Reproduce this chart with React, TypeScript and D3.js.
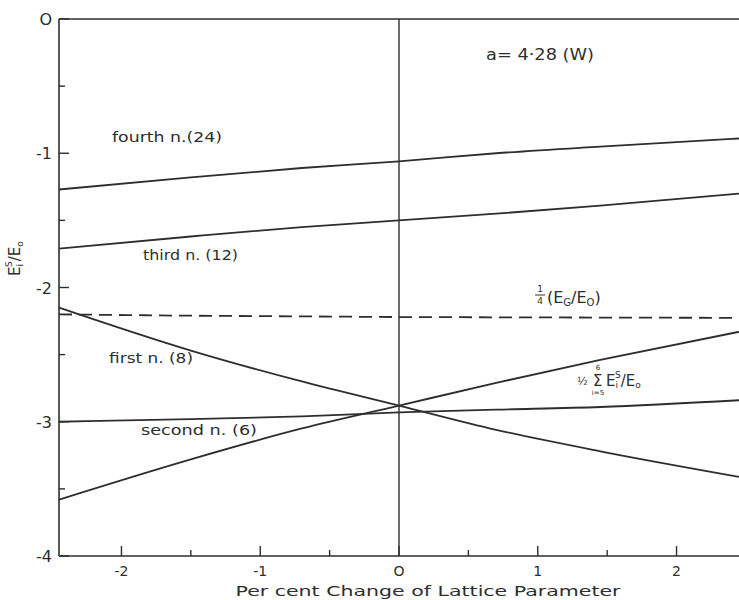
import React from "react";
import * as d3 from "d3";

const xPoints = [-2.45, -1.5, -0.7, 0, 0.7, 1.45, 2.45];
const fourth = [-1.27, -1.18, -1.11, -1.06, -1.0, -0.95, -0.89];
const third = [-1.71, -1.62, -1.55, -1.5, -1.45, -1.39, -1.3];
const first = [-2.15, -2.47, -2.7, -2.88, -3.06, -3.22, -3.41];
const second = [-3.0, -2.98, -2.96, -2.93, -2.91, -2.89, -2.84];
const sumHalf = [-3.58, -3.28, -3.05, -2.88, -2.71, -2.54, -2.33];
const egLine = [-2.2, -2.21, -2.215, -2.22, -2.222, -2.224, -2.226];

const xMajor = [-2, -1, 0, 1, 2];
const xMinor = [-1.5, -0.5, 0.5, 1.5];
const yMajor = [0, -1, -2, -3, -4];
const yMinor = [-0.5, -1.5, -2.5, -3.5];
const xTickLabels = ["-2", "-1", "O", "1", "2"];
const yTickLabels = ["O", "-1", "-2", "-3", "-4"];

const W = 739;
const H = 600;
const left = 59;
const right = 739;
const top = 19;
const bottom = 556;

const x = d3.scaleLinear().domain([-2.45, 2.45]).range([left, right]);
const y = d3.scaleLinear().domain([0, -4]).range([top, bottom]);

const ink = "#2e2e2e";
const font = "'DejaVu Sans', sans-serif";

function path(vals: number[]) {
  const line = d3
    .line<number>()
    .x((_, i) => x(xPoints[i]))
    .y((v) => y(v))
    .curve(d3.curveMonotoneX);
  return line(vals) || "";
}

export default function App() {
  const curves = [fourth, third, first, second, sumHalf];
  return (
    <svg
      width={W}
      height={H}
      style={{ position: "absolute", left: 0, top: 0, background: "#fff" }}
    >
      <rect x={0} y={0} width={W} height={H} fill="#fff" />
      {/* frame */}
      <line x1={left} x2={right} y1={top} y2={top} stroke={ink} strokeWidth={1.6} />
      <line x1={left} x2={left} y1={top} y2={bottom} stroke={ink} strokeWidth={1.6} />
      <line x1={left} x2={right} y1={bottom} y2={bottom} stroke={ink} strokeWidth={1.6} />
      <line x1={x(0)} x2={x(0)} y1={top} y2={bottom} stroke={ink} strokeWidth={1.4} />
      {/* x ticks */}
      {xMajor.map((v, i) => (
        <g key={"xm" + v}>
          <line x1={x(v)} x2={x(v)} y1={bottom} y2={bottom - 10} stroke={ink} strokeWidth={1.4} />
          <text x={x(v)} y={bottom + 20} textAnchor="middle" fontSize={14} fontFamily={font} fill={ink}>
            {xTickLabels[i]}
          </text>
        </g>
      ))}
      {xMinor.map((v) => (
        <line key={"xn" + v} x1={x(v)} x2={x(v)} y1={bottom} y2={bottom - 6} stroke={ink} strokeWidth={1.4} />
      ))}
      {/* y ticks */}
      {yMajor.map((v, i) => (
        <g key={"ym" + v}>
          <line x1={left} x2={left + 10} y1={y(v)} y2={y(v)} stroke={ink} strokeWidth={1.4} />
          <text x={left - 7} y={y(v) + 6} textAnchor="end" fontSize={16} fontFamily={font} fill={ink}>
            {yTickLabels[i]}
          </text>
        </g>
      ))}
      {yMinor.map((v) => (
        <line key={"yn" + v} x1={left} x2={left + 6} y1={y(v)} y2={y(v)} stroke={ink} strokeWidth={1.4} />
      ))}
      {/* curves */}
      {curves.map((c, i) => (
        <path key={"c" + i} d={path(c)} fill="none" stroke={ink} strokeWidth={1.8} />
      ))}
      <path d={path(egLine)} fill="none" stroke={ink} strokeWidth={1.8} strokeDasharray="13 7" />
      {/* curve labels */}
      <text x={112} y={142} fontSize={14} fontFamily={font} fill={ink} textLength={110} lengthAdjust="spacingAndGlyphs">
        fourth n.(24)
      </text>
      <text x={143} y={260} fontSize={14} fontFamily={font} fill={ink} textLength={95} lengthAdjust="spacingAndGlyphs">
        third n. (12)
      </text>
      <text x={109} y={363} fontSize={14} fontFamily={font} fill={ink} textLength={84} lengthAdjust="spacingAndGlyphs">
        first n. (8)
      </text>
      <text x={141} y={435} fontSize={14} fontFamily={font} fill={ink} textLength={116} lengthAdjust="spacingAndGlyphs">
        second n. (6)
      </text>
      {/* 1/4 (EG/EO) */}
      <g fontFamily={font} fill={ink}>
        <text x={540} y={292} fontSize={9} textAnchor="middle">1</text>
        <line x1={535} x2={545} y1={295} y2={295} stroke={ink} strokeWidth={1} />
        <text x={540} y={304} fontSize={9} textAnchor="middle">4</text>
        <text x={547} y={303} fontSize={16}>
          (E<tspan fontSize={10} dy={3}>G</tspan>
          <tspan dy={-3}>/E</tspan>
          <tspan fontSize={10} dy={3}>O</tspan>
          <tspan dy={-3}>)</tspan>
        </text>
      </g>
      {/* 1/2 sum */}
      <g fontFamily={font} fill={ink}>
        <text x={577} y={385} fontSize={11}>
          ½
        </text>
        <text x={593} y={386} fontSize={15}>Σ</text>
        <text x={598} y={370} fontSize={7} textAnchor="middle">6</text>
        <text x={598} y={395} fontSize={7} textAnchor="middle">i=5</text>
        <text x={606} y={386} fontSize={15}>
          E<tspan fontSize={9} dy={2}>i</tspan>
          <tspan fontSize={9} dx={-3} dy={-10}>S</tspan>
          <tspan fontSize={15} dy={8}>/E</tspan>
          <tspan fontSize={9} dy={2}>o</tspan>
        </text>
      </g>
      <text x={486} y={60} fontSize={15} fontFamily={font} fill={ink} textLength={108} lengthAdjust="spacingAndGlyphs">
        a= 4·28  (W)
      </text>
      {/* axis titles */}
      <text
        x={428}
        y={596}
        textAnchor="middle"
        fontSize={14}
        fontFamily={font}
        fill={ink}
        textLength={385}
        lengthAdjust="spacingAndGlyphs"
      >
        Per cent Change of Lattice Parameter
      </text>
      <text transform="translate(20,276) rotate(-90)" fontSize={15} fontFamily={font} fill={ink}>
        E<tspan fontSize={9} dy={3}>i</tspan>
        <tspan fontSize={9} dx={-3} dy={-11}>S</tspan>
        <tspan fontSize={15} dy={8}>/E</tspan>
        <tspan fontSize={9} dy={3}>o</tspan>
      </text>
    </svg>
  );
}
